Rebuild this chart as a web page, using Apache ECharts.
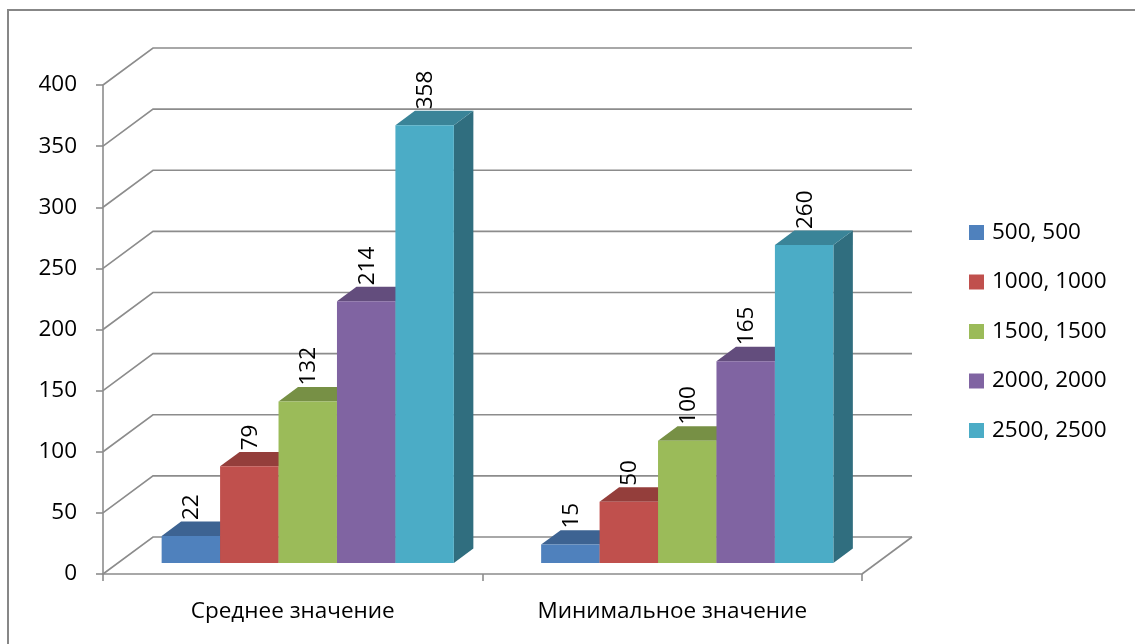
<!DOCTYPE html>
<html>
<head>
<meta charset="utf-8">
<script src="https://cdn.jsdelivr.net/npm/echarts@6/dist/echarts.min.js"></script>
<style>
  html, body { margin: 0; padding: 0; background: #ffffff; }
  #chart { width: 1135px; height: 644px; }
</style>
</head>
<body>
<div id="chart"></div>
<script>
// Chart data
const categories = ['Среднее значение', 'Минимальное значение'];
const seriesNames = ['500, 500', '1000, 1000', '1500, 1500', '2000, 2000', '2500, 2500'];
const avgValues = [22, 79, 132, 214, 358];
const minValues = [15, 50, 100, 165, 260];
const yTicks = [0, 50, 100, 150, 200, 250, 300, 350, 400];
const colors = ['#4F81BD', '#C0504D', '#9BBB59', '#8064A2', '#4BACC6'];

// Pseudo-3D projection settings (pixels / fractions)
const FONT = 'Open Sans';
const FS = 22.5;
const DEPTH_X = 50, DEPTH_Y = 37;      // wall depth offset
const BAR_Z0 = 0.30, BAR_Z1 = 0.69;    // bar front / back position within the depth
const GROUP = 0.77;                    // share of a category band used by the cluster
const LINE = '#8c8c8c';
const LINE_W = 1.6;

// Scale a hex colour's channels to shade a face
function shade(hex, k) {
  const n = parseInt(hex.slice(1), 16);
  const r = Math.round(((n >> 16) & 255) * k);
  const g = Math.round(((n >> 8) & 255) * k);
  const b = Math.round((n & 255) * k);
  return 'rgb(' + r + ',' + g + ',' + b + ')';
}

// Back wall gridlines plus the side-wall diagonals, one per tick value
function renderWall(params, api) {
  const cs = params.coordSys;
  const v = api.value(1);
  const y = api.coord([0, v])[1];
  const l = cs.x, r = cs.x + cs.width;
  const children = [{
    type: 'polyline',
    shape: { points: [[l, y], [l + DEPTH_X, y - DEPTH_Y], [r + DEPTH_X, y - DEPTH_Y]] },
    style: { stroke: LINE, lineWidth: LINE_W, fill: null }
  }];
  if (v === 0) {
    children.push({
      type: 'line',
      shape: { x1: r, y1: y, x2: r + DEPTH_X, y2: y - DEPTH_Y },
      style: { stroke: LINE, lineWidth: LINE_W }
    });
  }
  return { type: 'group', children: children };
}

// A prism-like bar: side, top and front faces, plus a rotated value label
function makeBarRenderer(s) {
  const front = colors[s];
  const topC = shade(front, 0.77);
  const sideC = shade(front, 0.64);
  return function (params, api) {
    const ci = api.value(0), v = api.value(1);
    const band = api.size([1, 0])[0];
    const base = api.coord([ci, 0]);
    const top = api.coord([ci, v]);
    const n = seriesNames.length;
    const barW = band * GROUP / n;
    const x0 = base[0] - band * GROUP / 2 + s * barW + BAR_Z0 * DEPTH_X;
    const x1 = x0 + barW;
    const yb = base[1] - BAR_Z0 * DEPTH_Y;
    const yt = top[1] - BAR_Z0 * DEPTH_Y;
    const dx = (BAR_Z1 - BAR_Z0) * DEPTH_X, dy = (BAR_Z1 - BAR_Z0) * DEPTH_Y;
    return {
      type: 'group',
      children: [
        { type: 'polygon', shape: { points: [[x1, yb], [x1 + dx, yb - dy], [x1 + dx, yt - dy], [x1, yt]] },
          style: { fill: sideC } },
        { type: 'polygon', shape: { points: [[x0, yt], [x0 + dx, yt - dy], [x1 + dx, yt - dy], [x1, yt]] },
          style: { fill: topC } },
        { type: 'rect', shape: { x: x0, y: yt, width: x1 - x0, height: yb - yt },
          style: { fill: front } },
        { type: 'text', x: (x0 + x1) / 2 + 1, y: yt - 16, rotation: Math.PI / 2, z2: 10,
          style: { text: String(v), fontSize: FS, fontFamily: FONT, fill: '#000',
                   align: 'left', verticalAlign: 'middle' } }
      ]
    };
  };
}

const chart = echarts.init(document.getElementById('chart'), null, { renderer: 'canvas' });

const barSeries = seriesNames.map(function (name, s) {
  return {
    type: 'custom',
    name: name,
    renderItem: makeBarRenderer(s),
    itemStyle: { color: colors[s] },
    encode: { x: 0, y: 1 },
    data: categories.map(function (c, i) { return [i, [avgValues, minValues][i][s]]; }),
    z: 3
  };
});

chart.setOption({
  animation: false,
  color: colors,
  textStyle: { fontFamily: FONT },
  graphic: [{
    type: 'rect', silent: true,
    shape: { x: 8, y: 10, width: 1160, height: 660 },
    style: { fill: null, stroke: '#878787', lineWidth: 2 }
  }],
  grid: { left: 103, right: 273, top: 85, bottom: 70, outerBoundsMode: 'none' },
  legend: {
    orient: 'vertical', left: 964, top: 216,
    data: seriesNames,
    icon: 'rect', itemWidth: 15, itemHeight: 15, itemGap: 26.5,
    textStyle: { fontSize: FS, lineHeight: 22, fontFamily: FONT, color: '#000', padding: [0, 0, 0, 3] }
  },
  xAxis: {
    type: 'category', data: categories, boundaryGap: true,
    axisLine: { lineStyle: { color: LINE, width: LINE_W } },
    axisTick: { show: true, length: 7, lineStyle: { color: LINE, width: LINE_W } },
    axisLabel: { fontSize: FS, fontFamily: FONT, color: '#000', margin: 26 },
    splitLine: { show: false }
  },
  yAxis: {
    type: 'value', min: 0, max: 400, interval: 50,
    axisLine: { show: true, lineStyle: { color: LINE, width: LINE_W } },
    axisTick: { show: true, length: 7, lineStyle: { color: LINE, width: LINE_W } },
    axisLabel: { fontSize: FS, fontFamily: FONT, color: '#000', margin: 26 },
    splitLine: { show: false }
  },
  series: [{
    type: 'custom',
    name: 'walls',
    renderItem: renderWall,
    encode: { x: 0, y: 1 },
    data: yTicks.map(function (v) { return [0, v]; }),
    silent: true,
    z: 1
  }].concat(barSeries)
});
</script>
</body>
</html>
